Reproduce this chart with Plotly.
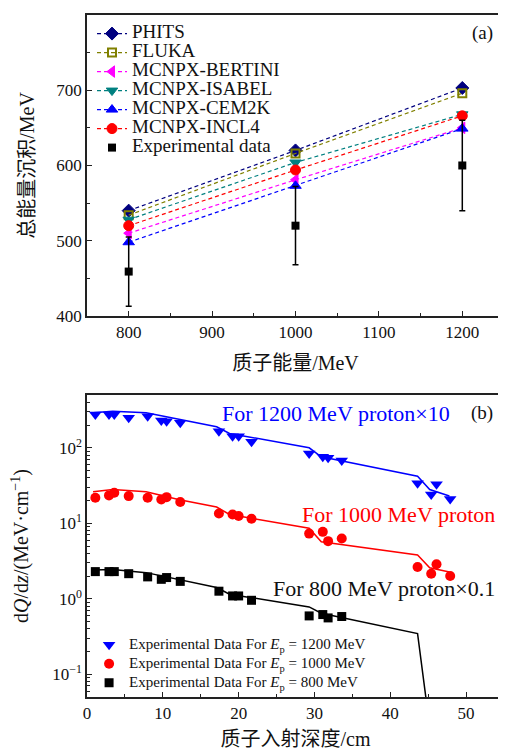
import plotly.graph_objects as go

# ---------------- Panel (a) data ----------------
energy = [800, 1000, 1200]
phits = [540, 620, 703]
fluka = [534, 616, 696]
bertini = [510, 581, 650]
isabel = [528, 604, 668]
cem2k = [498, 573, 649]
incl4 = [520, 594, 666]
exp_a = [459, 520, 600]
exp_a_err = [46, 52, 60]

# ---------------- Panel (b) data ----------------
depth = [1.1, 2.9, 3.6, 5.5, 8.0, 9.8, 10.5, 12.3, 17.4, 19.2, 20.0, 21.7,
         29.3, 31.1, 31.8, 33.6, 43.6, 45.4, 46.1, 47.9]
exp_1200 = [277, 277, 277, 249, 262, 230, 225, 214, 166, 142, 142, 120,
            84, 76, 74, 68, 34, 24, 33, 21]
exp_1000 = [21.8, 23.4, 25.4, 22.9, 21.8, 20.7, 22.2, 19.1, 13.5, 13.1, 12.5, 11.5,
            7.3, 7.7, 5.8, 6.3, 2.64, 2.15, 2.86, 2.0]
depth_800 = [1.1, 2.9, 3.6, 5.5, 8.0, 9.8, 10.5, 12.3, 17.4, 19.2, 20.0, 21.7,
             29.3, 31.1, 31.8, 33.6]
exp_800 = [2.29, 2.29, 2.29, 2.15, 1.95, 1.81, 1.91, 1.70, 1.26, 1.09, 1.09, 0.955,
           0.593, 0.618, 0.558, 0.582]

sim_depth = [0.8, 3.4, 7.8, 12.2, 17.1, 18.8, 29.3, 30.9, 43.6, 45.2, 47.8]
sim_1200 = [290, 305, 290, 240, 190, 155, 100, 76, 42, 28, 23]
sim_1000 = [26.2, 28.0, 26.2, 20.5, 16.4, 13.1, 8.6, 5.7, 3.8, 2.58, 2.26]
sim_800_depth = [0.8, 3.4, 7.8, 12.2, 17.1, 18.8, 29.3, 30.9, 43.6, 45.2]
sim_800 = [2.40, 2.45, 2.22, 1.81, 1.41, 1.15, 0.78, 0.643, 0.346, 0.02]

FONT = "Liberation Serif, Noto Sans CJK SC, serif"


def big(txt, px):
    return '<span style="font-size:%dpx">%s</span>' % (px, txt)


fig = go.Figure()

dash = "4px,3px"
models = [
    ("PHITS", phits, "#00007f", "diamond", 10, 1),
    ("FLUKA", fluka, "#808000", "square-open", 8, 2),
    ("MCNPX-BERTINI", bertini, "#ff00ff", "triangle-left", 10, 1),
    ("MCNPX-ISABEL", isabel, "#008080", "triangle-down", 10, 1),
    ("MCNPX-CEM2K", cem2k, "#0000ff", "triangle-up", 10, 1),
    ("MCNPX-INCL4", incl4, "#ff0000", "circle", 10, 1),
]
for name, vals, col, sym, sz, lw in models:
    fig.add_trace(go.Scatter(
        x=energy, y=vals, name=big(name, 19), mode="lines+markers",
        line=dict(color=col, width=1.2, dash=dash),
        marker=dict(symbol=sym, size=sz, color=col, line=dict(color=col, width=lw)),
        xaxis="x", yaxis="y", legend="legend"))

fig.add_trace(go.Scatter(
    x=energy, y=exp_a, name=big("Experimental data", 19), mode="markers",
    marker=dict(symbol="square", size=8, color="black"),
    error_y=dict(type="data", array=exp_a_err, color="black", thickness=1.5, width=3),
    xaxis="x", yaxis="y", legend="legend"))

# Panel (b)
fig.add_trace(go.Scatter(x=sim_depth, y=sim_1200, mode="lines", showlegend=False,
                         line=dict(color="#0000ff", width=1.5), xaxis="x2", yaxis="y2"))
fig.add_trace(go.Scatter(x=sim_depth, y=sim_1000, mode="lines", showlegend=False,
                         line=dict(color="#ff0000", width=1.5), xaxis="x2", yaxis="y2"))
fig.add_trace(go.Scatter(x=sim_800_depth, y=sim_800, mode="lines", showlegend=False,
                         line=dict(color="black", width=1.5), xaxis="x2", yaxis="y2"))

fig.add_trace(go.Scatter(x=depth, y=exp_1200, mode="markers",
                         name=big("Experimental Data For <i>E</i><sub>p</sub> = 1200 MeV", 15),
                         marker=dict(symbol="triangle-down", size=11, color="#0000ff"),
                         xaxis="x2", yaxis="y2", legend="legend2"))
fig.add_trace(go.Scatter(x=depth, y=exp_1000, mode="markers",
                         name=big("Experimental Data For <i>E</i><sub>p</sub> = 1000 MeV", 15),
                         marker=dict(symbol="circle", size=10, color="#ff0000"),
                         xaxis="x2", yaxis="y2", legend="legend2"))
fig.add_trace(go.Scatter(x=depth_800, y=exp_800, mode="markers",
                         name=big("Experimental Data For <i>E</i><sub>p</sub> = 800 MeV", 15),
                         marker=dict(symbol="square", size=9, color="black"),
                         xaxis="x2", yaxis="y2", legend="legend2"))

axis_common = dict(showline=True, linecolor="#222", linewidth=1.5, mirror=True,
                   ticks="inside", ticklen=5, tickwidth=1, tickcolor="#222",
                   showgrid=False, zeroline=False, automargin=False,
                   tickfont=dict(family=FONT, size=17, color="#111"))

minor_log = []
for d in [0.01, 0.1, 1, 10, 100]:
    for k in range(2, 10):
        v = d * k
        if 0.05 <= v <= 500:
            minor_log.append(v)

TFONT = dict(family=FONT, size=20, color="#111")

fig.update_layout(
    width=498, height=746,
    margin=dict(l=79, r=2, t=7, b=57, autoexpand=False),
    paper_bgcolor="white", plot_bgcolor="white",
    font=dict(family=FONT, color="#111"),
    xaxis=dict(axis_common, domain=[0, 1], anchor="y", range=[750, 1250],
               tickvals=[800, 900, 1000, 1100, 1200],
               minor=dict(ticks="inside", ticklen=3, dtick=50, tickcolor="#222"),
               title=dict(text="质子能量/MeV", font=TFONT, standoff=15)),
    yaxis=dict(axis_common, domain=[0.5587, 1], anchor="x", range=[400, 800],
               tickvals=[400, 500, 600, 700, 800],
               minor=dict(ticks="inside", ticklen=3, dtick=50, tickcolor="#222"),
               title=dict(text="总能量沉积/MeV", font=TFONT, standoff=16)),
    xaxis2=dict(axis_common, domain=[0, 1], anchor="y2", range=[0, 55],
                tickvals=[0, 10, 20, 30, 40, 50],
                minor=dict(ticks="inside", ticklen=3, dtick=5, tickcolor="#222"),
                title=dict(text="质子入射深度/cm", font=TFONT, standoff=10)),
    yaxis2=dict(axis_common, domain=[0, 0.4428], anchor="x2", type="log",
                range=[-1.301, 2.699],
                tickvals=[0.1, 1, 10, 100],
                ticktext=["10<sup>−1</sup>", "10<sup>0</sup>", "10<sup>1</sup>", "10<sup>2</sup>"],
                minor=dict(ticks="inside", ticklen=3, tickvals=minor_log, tickcolor="#222"),
                title=dict(text="d<i>Q</i>/d<i>z</i>/(MeV·cm<sup>−1</sup>)",
                           font=TFONT, standoff=18)),
    legend=dict(x=0.012, y=0.994, xanchor="left", yanchor="top",
                bgcolor="rgba(0,0,0,0)", font=dict(family=FONT, size=12),
                tracegroupgap=0, itemwidth=30),
    legend2=dict(x=0.005, y=0.098, xanchor="left", yanchor="top",
                 bgcolor="rgba(0,0,0,0)", font=dict(family=FONT, size=12),
                 tracegroupgap=0, itemwidth=30),
    annotations=[
        dict(text="(a)", x=0.978, y=0.9736, xref="paper", yref="paper",
             xanchor="right", yanchor="middle", showarrow=False,
             font=dict(family=FONT, size=19, color="#111")),
        dict(text="(b)", x=0.978, y=0.4164, xref="paper", yref="paper",
             xanchor="right", yanchor="middle", showarrow=False,
             font=dict(family=FONT, size=19, color="#111")),
        dict(text="For 1200 MeV proton×10", x=0.875, y=0.4164, xref="paper", yref="paper",
             xanchor="right", yanchor="middle", showarrow=False,
             font=dict(family=FONT, size=22, color="#0000ff")),
        dict(text="For 1000 MeV proton", x=0.983, y=0.2669, xref="paper", yref="paper",
             xanchor="right", yanchor="middle", showarrow=False,
             font=dict(family=FONT, size=22, color="#ff0000")),
        dict(text="For 800 MeV proton×0.1", x=0.983, y=0.1598, xref="paper", yref="paper",
             xanchor="right", yanchor="middle", showarrow=False,
             font=dict(family=FONT, size=22, color="#111")),
    ],
)

fig.write_html("out.html")
